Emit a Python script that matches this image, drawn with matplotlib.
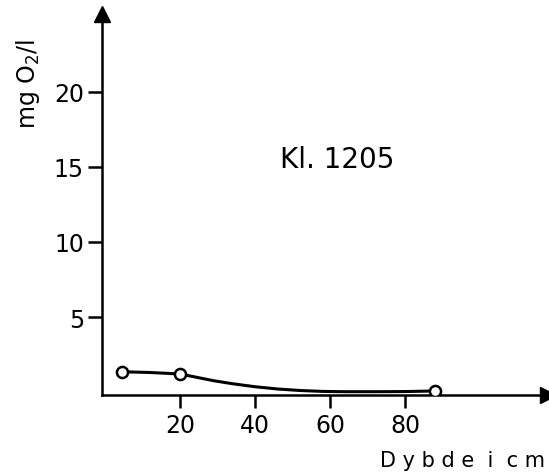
import numpy as np
import matplotlib.pyplot as plt

# Maalte punkter
dybde = [4.5, 20, 88]
o2 = [1.35, 1.2, 0.07]

# Kurven som tegnet paa figuren (aflaest)
kurve_x = [4.5, 12, 20, 24, 29, 34, 40, 46, 52, 58, 64, 72, 80, 88]
kurve_y = [1.35, 1.3, 1.2, 1.0, 0.75, 0.55, 0.35, 0.2, 0.1, 0.04, 0.02, 0.02, 0.03, 0.07]

xticks = [20, 40, 60, 80]
yticks = [5, 10, 15, 20]

fig = plt.figure(figsize=(5.49, 4.77), dpi=100)
ax = fig.add_axes([102/549, 1 - 396/477, 446/549, 381/477])

ax.plot(kurve_x, kurve_y, color='black', lw=2.2, zorder=2)
ax.plot(dybde, o2, 'o', color='black', mfc='white', ms=8, mew=1.8, zorder=3)

ax.set_xlim(-0.8, 118)
ax.set_ylim(-0.2, 25.2)

for s in ['top', 'right']:
    ax.spines[s].set_visible(False)
for s in ['left', 'bottom']:
    ax.spines[s].set_linewidth(1.8)

# Pile paa akserne
ax.plot(0, 1, '^', color='black', ms=11, transform=ax.transAxes, clip_on=False)
ax.plot(1, 0, '>', color='black', ms=11, transform=ax.transAxes, clip_on=False)

ax.set_xticks(xticks)
ax.set_yticks(yticks)
ax.tick_params(axis='y', direction='out', length=10, width=1.8, labelsize=17, pad=3)
ax.tick_params(axis='x', direction='out', length=9, width=1.8, labelsize=17, pad=4)

ax.text(-0.166, 0.819, 'mg O$_2$/l', rotation=90, fontsize=17,
        transform=ax.transAxes, ha='center', va='center')
ax.text(0.527, 0.62, 'Kl. 1205', fontsize=20, transform=ax.transAxes,
        ha='center', va='center')
fig.text(462/549, 1 - 461/477, 'D y b d e  i  c m', fontsize=15, ha='center', va='center')

plt.savefig('out.png', dpi=100)
